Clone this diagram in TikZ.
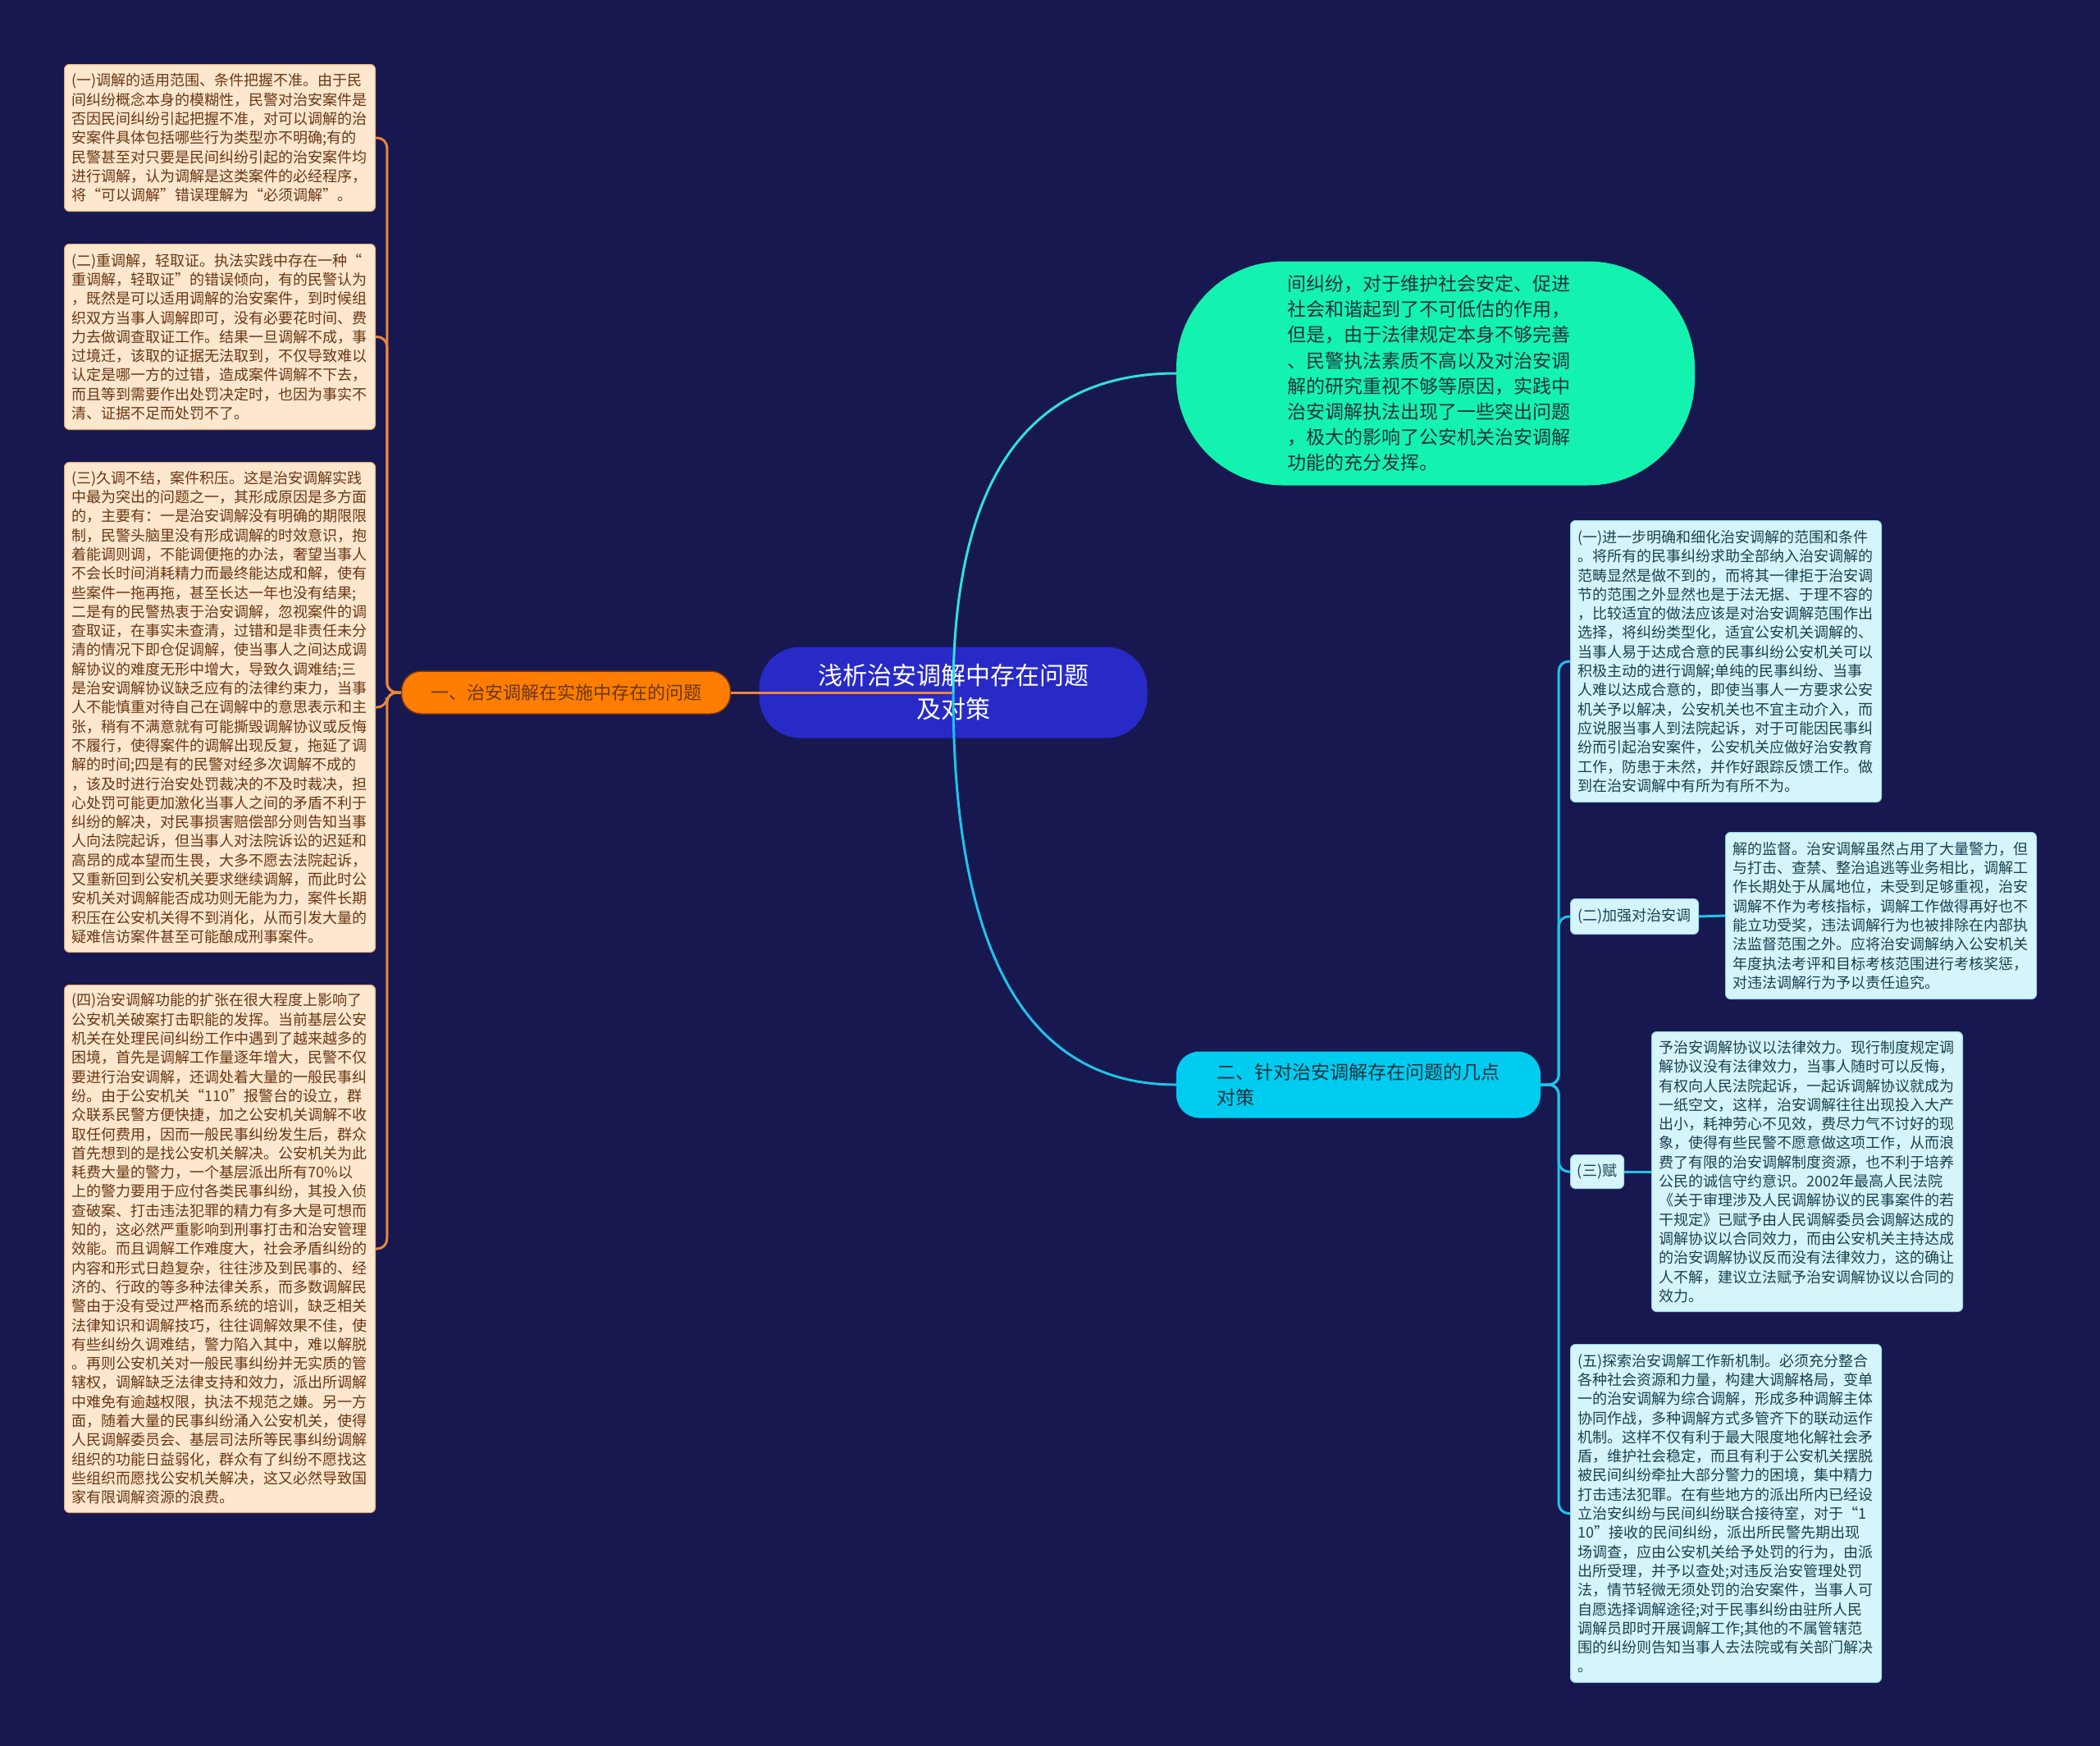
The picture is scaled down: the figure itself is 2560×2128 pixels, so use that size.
\documentclass[tikz,border=0pt]{standalone}
\usepackage{fontspec}
\setmainfont{Noto Sans CJK SC}
\usetikzlibrary{shapes.misc}
\definecolor{bgc}{RGB}{23,24,80}
\definecolor{rootc}{RGB}{40,42,200}
\definecolor{orangec}{RGB}{255,125,0}
\definecolor{greenc}{RGB}{20,242,176}
\definecolor{cyanc}{RGB}{0,204,240}
\definecolor{lfill}{RGB}{253,231,206}
\definecolor{lborder}{RGB}{235,170,110}
\definecolor{ltext}{RGB}{105,55,20}
\definecolor{rfill}{RGB}{214,245,251}
\definecolor{rborder}{RGB}{150,215,235}
\definecolor{rtext}{RGB}{25,65,80}
\definecolor{lineo}{RGB}{232,135,60}
\definecolor{lineodark}{RGB}{120,55,20}
\definecolor{linec}{RGB}{30,195,235}
\definecolor{lineg}{RGB}{50,225,215}
\definecolor{darktext}{RGB}{30,50,60}
\tikzset{
  lbox/.style={draw=lborder, fill=lfill, line width=1pt, rounded corners=6pt, anchor=north west,
    align=left, text=ltext, text width=361pt, inner xsep=9pt, inner ysep=4pt,
    font=\fontsize{18}{23.3}\selectfont},
  rbox/.style={draw=rborder, fill=rfill, line width=1pt, rounded corners=6pt, anchor=north west,
    align=left, text=rtext, text width=361pt, inner xsep=9pt, inner ysep=4pt,
    font=\fontsize{18}{23.3}\selectfont},
  rsmall/.style={draw=rborder, fill=rfill, line width=1pt, rounded corners=6pt, anchor=north west,
    align=center, text=rtext, inner xsep=5pt, font=\fontsize{18}{23.3}\selectfont},
  oline/.style={draw=lineo, line width=3pt, rounded corners=12pt},
  cline/.style={draw=linec, line width=3pt, rounded corners=12pt},
  gline/.style={draw=lineg, line width=3pt},
}
\begin{document}
\begin{tikzpicture}[x=1pt,y=-1pt]
\useasboundingbox (0,0) rectangle (2560,2128);
\fill[bgc] (0,0) rectangle (2560,2128);

% root
\node[fill=rootc, rounded corners=50pt, minimum width=473pt, minimum height=111pt, align=center,
  text=white, font=\fontsize{30}{41}\selectfont, inner sep=0pt] (root) at (1162,844)
  {浅析治安调解中存在问题\\及对策};

% first-level
\node[fill=orangec, draw=lineodark, line width=1.5pt, rounded corners=24pt, minimum width=401pt, minimum height=52pt,
  text=ltext, font=\fontsize{22}{30}\selectfont, inner sep=0pt] (o1) at (690,844)
  {一、治安调解在实施中存在的问题};

\node[fill=greenc, rounded corners=130pt, minimum width=632pt, minimum height=273pt, align=left,
  text=darktext, font=\fontsize{23}{31.2}\selectfont, inner sep=0pt] (g) at (1750,455)
  {间纠纷，对于维护社会安定、促进\hspace*{16pt}\\
社会和谐起到了不可低估的作用，\\
但是，由于法律规定本身不够完善\\
、民警执法素质不高以及对治安调\\
解的研究重视不够等原因，实践中\\
治安调解执法出现了一些突出问题\\
，极大的影响了公安机关治安调解\\
功能的充分发挥。};

\node[fill=cyanc, rounded corners=28pt, minimum width=444pt, minimum height=81pt, align=left,
  text=darktext, font=\fontsize{23}{31}\selectfont, inner sep=0pt] (b2) at (1656,1322)
  {二、针对治安调解存在问题的几点\\对策};

% left boxes
\node[lbox, minimum height=179pt] (L1) at (78,78)
{(一)调解的适用范围、条件把握不准。由于民\\
间纠纷概念本身的模糊性，民警对治安案件是\\
否因民间纠纷引起把握不准，对可以调解的治\\
安案件具体包括哪些行为类型亦不明确;有的\\
民警甚至对只要是民间纠纷引起的治安案件均\\
进行调解，认为调解是这类案件的必经程序，\\
将“可以调解”错误理解为“必须调解”。};

\node[lbox, minimum height=226pt] (L2) at (78,297)
{(二)重调解，轻取证。执法实践中存在一种“\\
重调解，轻取证”的错误倾向，有的民警认为\\
，既然是可以适用调解的治安案件，到时候组\\
织双方当事人调解即可，没有必要花时间、费\\
力去做调查取证工作。结果一旦调解不成，事\\
过境迁，该取的证据无法取到，不仅导致难以\\
认定是哪一方的过错，造成案件调解不下去，\\
而且等到需要作出处罚决定时，也因为事实不\\
清、证据不足而处罚不了。};

\node[lbox, minimum height=597pt] (L3) at (78,563)
{(三)久调不结，案件积压。这是治安调解实践\\
中最为突出的问题之一，其形成原因是多方面\\
的，主要有：一是治安调解没有明确的期限限\\
制，民警头脑里没有形成调解的时效意识，抱\\
着能调则调，不能调便拖的办法，奢望当事人\\
不会长时间消耗精力而最终能达成和解，使有\\
些案件一拖再拖，甚至长达一年也没有结果;\\
二是有的民警热衷于治安调解，忽视案件的调\\
查取证，在事实未查清，过错和是非责任未分\\
清的情况下即仓促调解，使当事人之间达成调\\
解协议的难度无形中增大，导致久调难结;三\\
是治安调解协议缺乏应有的法律约束力，当事\\
人不能慎重对待自己在调解中的意思表示和主\\
张，稍有不满意就有可能撕毁调解协议或反悔\\
不履行，使得案件的调解出现反复，拖延了调\\
解的时间;四是有的民警对经多次调解不成的\\
，该及时进行治安处罚裁决的不及时裁决，担\\
心处罚可能更加激化当事人之间的矛盾不利于\\
纠纷的解决，对民事损害赔偿部分则告知当事\\
人向法院起诉，但当事人对法院诉讼的迟延和\\
高昂的成本望而生畏，大多不愿去法院起诉，\\
又重新回到公安机关要求继续调解，而此时公\\
安机关对调解能否成功则无能为力，案件长期\\
积压在公安机关得不到消化，从而引发大量的\\
疑难信访案件甚至可能酿成刑事案件。};

\node[lbox, minimum height=643pt] (L4) at (78,1200)
{(四)治安调解功能的扩张在很大程度上影响了\\
公安机关破案打击职能的发挥。当前基层公安\\
机关在处理民间纠纷工作中遇到了越来越多的\\
困境，首先是调解工作量逐年增大，民警不仅\\
要进行治安调解，还调处着大量的一般民事纠\\
纷。由于公安机关“110”报警台的设立，群\\
众联系民警方便快捷，加之公安机关调解不收\\
取任何费用，因而一般民事纠纷发生后，群众\\
首先想到的是找公安机关解决。公安机关为此\\
耗费大量的警力，一个基层派出所有70\%以\\
上的警力要用于应付各类民事纠纷，其投入侦\\
查破案、打击违法犯罪的精力有多大是可想而\\
知的，这必然严重影响到刑事打击和治安管理\\
效能。而且调解工作难度大，社会矛盾纠纷的\\
内容和形式日趋复杂，往往涉及到民事的、经\\
济的、行政的等多种法律关系，而多数调解民\\
警由于没有受过严格而系统的培训，缺乏相关\\
法律知识和调解技巧，往往调解效果不佳，使\\
有些纠纷久调难结，警力陷入其中，难以解脱\\
。再则公安机关对一般民事纠纷并无实质的管\\
辖权，调解缺乏法律支持和效力，派出所调解\\
中难免有逾越权限，执法不规范之嫌。另一方\\
面，随着大量的民事纠纷涌入公安机关，使得\\
人民调解委员会、基层司法所等民事纠纷调解\\
组织的功能日益弱化，群众有了纠纷不愿找这\\
些组织而愿找公安机关解决，这又必然导致国\\
家有限调解资源的浪费。};

% right boxes
\node[rbox, minimum height=343pt] (R1) at (1914,634)
{(一)进一步明确和细化治安调解的范围和条件\\
。将所有的民事纠纷求助全部纳入治安调解的\\
范畴显然是做不到的，而将其一律拒于治安调\\
节的范围之外显然也是于法无据、于理不容的\\
，比较适宜的做法应该是对治安调解范围作出\\
选择，将纠纷类型化，适宜公安机关调解的、\\
当事人易于达成合意的民事纠纷公安机关可以\\
积极主动的进行调解;单纯的民事纠纷、当事\\
人难以达成合意的，即使当事人一方要求公安\\
机关予以解决，公安机关也不宜主动介入，而\\
应说服当事人到法院起诉，对于可能因民事纠\\
纷而引起治安案件，公安机关应做好治安教育\\
工作，防患于未然，并作好跟踪反馈工作。做\\
到在治安调解中有所为有所不为。};

\node[rsmall, minimum width=156pt, minimum height=43pt] (R2s) at (1914,1095) {(二)加强对治安调};
\node[rbox, minimum height=203pt] (R2) at (2103,1014)
{解的监督。治安调解虽然占用了大量警力，但\\
与打击、查禁、整治追逃等业务相比，调解工\\
作长期处于从属地位，未受到足够重视，治安\\
调解不作为考核指标，调解工作做得再好也不\\
能立功受奖，违法调解行为也被排除在内部执\\
法监督范围之外。应将治安调解纳入公安机关\\
年度执法考评和目标考核范围进行考核奖惩，\\
对违法调解行为予以责任追究。};

\node[rsmall, minimum width=65pt, minimum height=41pt] (R3s) at (1914,1407) {(三)赋};
\node[rbox, minimum height=341pt] (R3) at (2013,1257)
{予治安调解协议以法律效力。现行制度规定调\\
解协议没有法律效力，当事人随时可以反悔，\\
有权向人民法院起诉，一起诉调解协议就成为\\
一纸空文，这样，治安调解往往出现投入大产\\
出小，耗神劳心不见效，费尽力气不讨好的现\\
象，使得有些民警不愿意做这项工作，从而浪\\
费了有限的治安调解制度资源，也不利于培养\\
公民的诚信守约意识。2002年最高人民法院\\
《关于审理涉及人民调解协议的民事案件的若\\
干规定》已赋予由人民调解委员会调解达成的\\
调解协议以合同效力，而由公安机关主持达成\\
的治安调解协议反而没有法律效力，这的确让\\
人不解，建议立法赋予治安调解协议以合同的\\
效力。};

\node[rbox, minimum height=412pt] (R4) at (1914,1638)
{(五)探索治安调解工作新机制。必须充分整合\\
各种社会资源和力量，构建大调解格局，变单\\
一的治安调解为综合调解，形成多种调解主体\\
协同作战，多种调解方式多管齐下的联动运作\\
机制。这样不仅有利于最大限度地化解社会矛\\
盾，维护社会稳定，而且有利于公安机关摆脱\\
被民间纠纷牵扯大部分警力的困境，集中精力\\
打击违法犯罪。在有些地方的派出所内已经设\\
立治安纠纷与民间纠纷联合接待室，对于“1\\
10”接收的民间纠纷，派出所民警先期出现\\
场调查，应由公安机关给予处罚的行为，由派\\
出所受理，并予以查处;对违反治安管理处罚\\
法，情节轻微无须处罚的治安案件，当事人可\\
自愿选择调解途径;对于民事纠纷由驻所人民\\
调解员即时开展调解工作;其他的不属管辖范\\
围的纠纷则告知当事人去法院或有关部门解决\\
。};

% connectors
\draw[oline] (root.center) -- (o1.east);
\foreach \b in {L1,L2,L3,L4}
  \draw[oline] (o1.west) -- ++(-17,0) |- (\b.east);
\draw[gline] (root.center) .. controls +(0,-259) and +(-181,0) .. (g.west);
\draw[cline] (root.center) .. controls +(0,319) and +(-181,0) .. (b2.west);
\foreach \b in {R1,R2s,R3s,R4}
  \draw[cline] (b2.east) -- ++(22,0) |- (\b.west);
\draw[cline] (R2s.east) -- (R2.west);
\draw[cline] (R3s.east) -- (R3.west);
\end{tikzpicture}
\end{document}
